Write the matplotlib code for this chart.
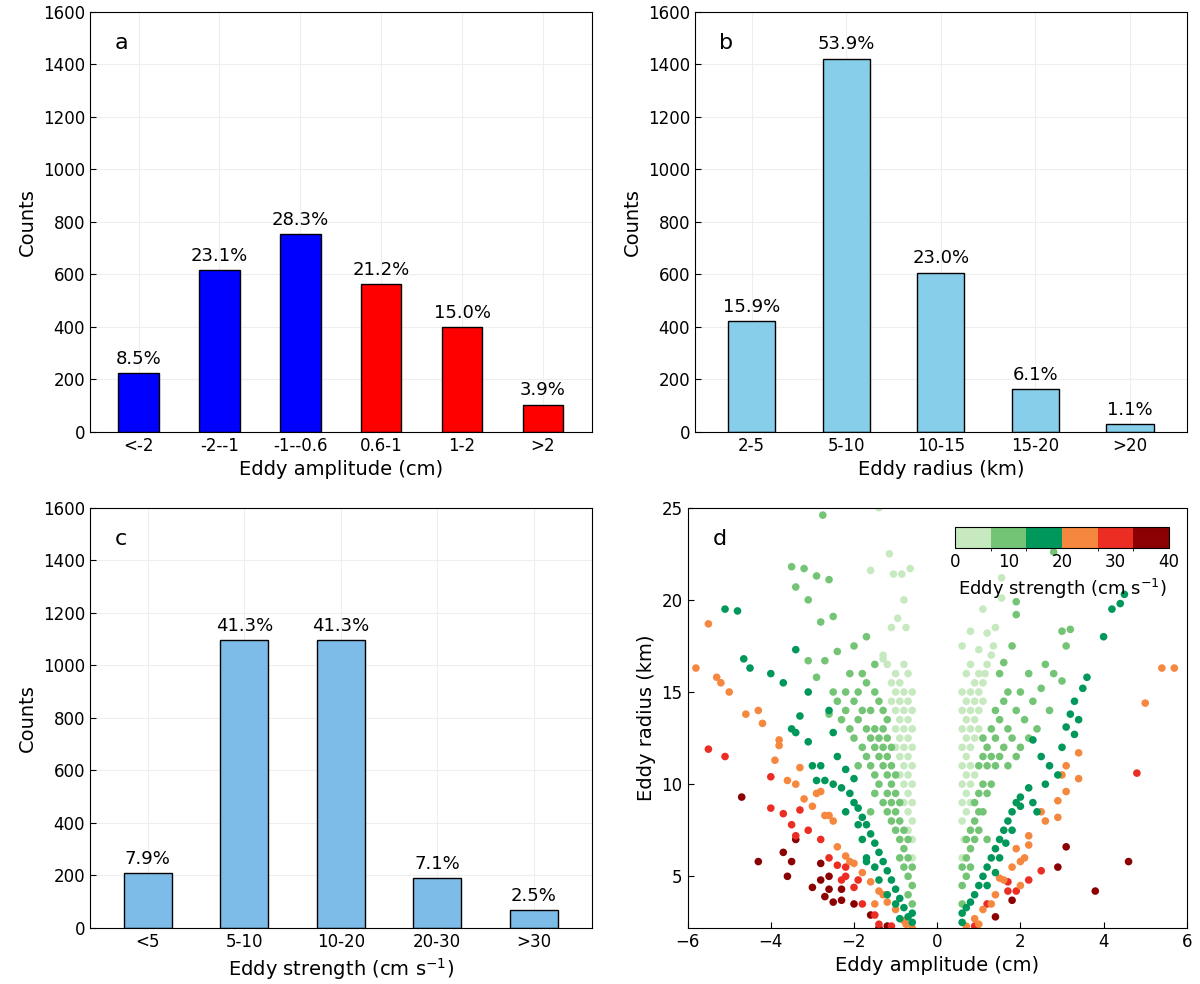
import matplotlib
matplotlib.use("Agg")
import matplotlib.pyplot as plt
import numpy as np
from matplotlib.colors import ListedColormap, BoundaryNorm

amp_cats = ["<-2", "-2--1", "-1--0.6", "0.6-1", "1-2", ">2"]
amp_counts = [225, 615, 752, 563, 400, 104]
amp_pct = ["8.5%", "23.1%", "28.3%", "21.2%", "15.0%", "3.9%"]
rad_cats = ["2-5", "5-10", "10-15", "15-20", ">20"]
rad_counts = [422, 1422, 607, 163, 30]
rad_pct = ["15.9%", "53.9%", "23.0%", "6.1%", "1.1%"]
str_cats = ["<5", "5-10", "10-20", "20-30", ">30"]
str_counts = [210, 1097, 1097, 190, 67]
str_pct = ["7.9%", "41.3%", "41.3%", "7.1%", "2.5%"]

light = [(-0.6,8),(-0.6,9),(-0.6,10),(-0.6,11),(-0.6,12),(-0.6,13),(-0.6,14),(-0.6,15),(-0.7,8.5),(-0.7,9.5),(-0.7,10.5),(-0.7,11.5),(-0.7,12.5),(-0.7,13.5),(-0.7,14.5),(-0.7,16),(-0.8,9),(-0.8,10),(-0.8,11),(-0.8,12),(-0.8,13),(-0.8,14),(-0.8,15),(-0.8,16.5),(-0.9,10.5),(-0.9,11.5),(-0.9,12.5),(-0.9,13.5),(-0.9,14.5),(-0.9,15.5),(-1.0,12),(-1.0,13),(-1.0,14),(-1.0,15),(-1.0,16),(-1.1,14.5),(-1.1,15.5),(-1.2,16.5),(-1.3,17),(-0.75,18.5),(-0.95,19),(-0.8,20),(-0.65,21.7),(-1.1,18.5),(-1.15,22.5),(-1.6,21.6),(-1.05,21.4),(-0.85,21.4),(-1.3,16.8),(-1.4,25),(-0.6,6),(-0.6,7),(-0.7,7.5),
         (0.6,8),(0.6,9),(0.6,10),(0.6,11),(0.6,12),(0.6,13),(0.6,14),(0.6,15),(0.7,8.5),(0.7,9.5),(0.7,10.5),(0.7,11.5),(0.7,12.5),(0.7,13.5),(0.7,14.5),(0.7,16),(0.8,9),(0.8,10),(0.8,11),(0.8,12),(0.8,13),(0.8,14),(0.8,15),(0.8,16.5),(0.9,10.5),(0.9,12.5),(0.9,13.5),(0.9,14.5),(0.9,15.5),(1.0,13),(1.0,14),(1.0,15),(1.0,16),(1.1,14.5),(1.1,15.5),(1.2,16.5),(1.3,17),(0.6,17.5),(0.8,18.3),(1.0,17.3),(1.2,18.2),(1.4,18.5),(1.35,17.5),(1.1,19.5),(1.55,21.2),(1.55,20.1),(1.15,16),(0.65,7),(0.6,6)]
medium = [(-0.6,3.5),(-0.6,4.5),(-0.6,5.5),(-0.7,4),(-0.7,5),(-0.7,6),(-0.7,7),(-0.8,5.5),(-0.8,6.5),(-0.8,7.5),(-0.9,6),(-0.9,7),(-0.9,8),(-0.9,9),(-1.0,7.5),(-1.0,8.5),(-1.0,9.5),(-1.0,10.5),(-1.1,8),(-1.1,9),(-1.1,10),(-1.1,11),(-1.1,12),(-1.2,9.5),(-1.2,10.5),(-1.2,11.5),(-1.2,12.5),(-1.2,13.5),(-1.3,9),(-1.3,11),(-1.3,12),(-1.3,13),(-1.3,14),(-1.4,10),(-1.4,11.5),(-1.4,12.5),(-1.4,14.5),(-1.5,10.5),(-1.5,12),(-1.5,13),(-1.5,15),(-1.6,11),(-1.6,12.5),(-1.6,14),(-1.7,11.5),(-1.7,13),(-1.7,15.5),(-1.8,12),(-1.8,14),(-1.9,11),(-1.9,13.5),(-1.9,15),(-2.0,12.5),(-2.0,14.5),(-2.1,13),(-2.2,14),(-2.2,15),(-2.3,13.5),(-2.4,14.5),(-2.5,15),(-2.6,13.8),(-2.0,17.5),(-1.7,18),(-2.4,17.2),(-2.7,16.7),(-2.9,15.8),(-3.1,16.7),(-2.8,18.8),(-2.5,19.1),(-3.1,20),(-3.4,20.7),(-3.5,21.8),(-3.2,21.7),(-2.9,21.3),(-2.6,21.1),(-2.75,24.6),(-1.5,16.5),(-1.8,16),(-2.1,16),(-1.2,8.5),(-1.5,9.5),(-1.6,8.5),
          (0.6,3.5),(0.6,4.5),(0.6,5.5),(0.7,5),(0.7,6),(0.7,7),(0.8,5.5),(0.8,6.5),(0.8,7.5),(0.9,7),(0.9,8),(0.9,9),(1.0,7.5),(1.0,8.5),(1.0,9.5),(1.0,11),(1.1,8.5),(1.1,10),(1.1,11.5),(1.1,12.5),(1.2,9.5),(1.2,11),(1.2,12),(1.3,10),(1.3,11.5),(1.3,13),(1.4,11),(1.4,12.5),(1.4,14),(1.5,11.5),(1.5,13.5),(1.6,12),(1.6,14.5),(1.7,11),(1.7,13),(1.7,15),(1.8,12.5),(1.9,11.5),(1.9,14),(2.0,12),(2.0,15),(2.1,13.5),(2.2,12.5),(2.3,14.5),(2.4,13),(2.5,15.2),(2.6,16.5),(2.7,14),(2.8,16),(3.0,15.6),(3.1,17.5),(3.2,18.4),(3.0,18.3),(2.2,16),(1.8,17.5),(1.6,16.6),(1.9,19.2),(1.9,19.9),(2.7,23.2),(2.8,22.6),(1.5,16),(1.2,7)]
dark = [(-0.6,2.5),(-0.6,3),(-0.7,2.8),(-0.8,3.3),(-0.9,3.8),(-1.0,4.3),(-1.1,4.8),(-1.2,5.3),(-1.3,5.8),(-1.4,6.3),(-1.5,6.8),(-1.6,7.3),(-1.7,7.8),(-1.8,8.2),(-1.9,8.7),(-2.0,9),(-2.1,9.5),(-2.3,9.8),(-2.5,10),(-2.7,10.2),(-2.9,10.2),(-3.0,11),(-3.1,12.3),(-3.4,12.8),(-3.5,13),(-3.3,13.7),(-2.6,14),(-2.5,12.8),(-2.4,11.5),(-2.2,10.8),(-2.8,11),(-2.0,10.3),(-1.8,7),(-1.5,5.5),(-1.2,4),(-1.0,3.5),(-0.9,2.7),(-1.4,4.8),(-1.7,6),(-2.2,8.5),(-1.9,7.8),(-3.7,15.5),(-3.1,15),(-4.0,16),(-4.5,16.3),(-4.65,16.8),(-5.1,19.5),(-4.8,19.4),(-3.4,17.3),(-1.7,5.8),
        (0.6,2.5),(0.6,3),(0.7,3.3),(0.8,3.6),(0.9,4),(1.0,4.5),(1.1,5),(1.2,5.5),(1.3,6),(1.4,6.5),(1.5,7),(1.6,7.5),(1.7,8),(1.8,8.5),(1.9,9),(2.0,9.3),(2.2,9.8),(2.3,9),(2.4,8.5),(2.6,10),(2.7,11),(2.9,10.5),(3.0,12),(3.1,13.1),(3.2,13.8),(3.4,13.5),(3.3,14.5),(3.5,15.2),(3.6,15.8),(2.5,11.5),(2.3,12.4),(1.5,6),(1.2,4.5),(1.8,7.5),(4.0,18),(4.2,19.5),(4.4,19.8),(4.5,20.3),(3.3,12.7),(1.4,5.2),(1.65,6.8),(2.0,8.8)]
orange = [(-0.6,2.2),(-0.8,2.6),(-1.0,3.2),(-1.2,3.6),(-1.4,4.2),(-1.6,4.7),(-1.8,5.2),(-2.0,5.7),(-2.2,6.1),(-2.4,6.6),(-2.5,8),(-2.7,8.3),(-2.9,9.5),(-3.2,9.2),(-3.4,10),(-3.6,10.2),(-3.9,11.3),(-3.8,12.1),(-4.2,13.3),(-4.3,14),(-4.6,13.8),(-5.0,15),(-5.2,15.5),(-5.3,15.8),(-5.8,16.3),(-5.5,18.7),(-3.3,10.9),(-2.6,8.3),(-2.8,9.6),(-1.3,4),(-1.5,3.5),(-0.75,2.4),(-2.1,5.8),(-3.0,8.8),(-3.8,12.4),
          (0.7,2.3),(0.9,2.7),(1.1,3.2),(1.3,3.5),(1.4,4),(1.6,4.8),(1.8,5.5),(1.9,6.5),(2.0,5.8),(2.2,6.7),(2.1,6),(2.2,7.2),(2.5,8.5),(2.6,8),(2.9,8.2),(2.9,9.1),(3.1,9.6),(3.0,10.5),(3.1,11),(3.4,10.3),(3.4,11.7),(5.0,14.4),(5.4,16.3),(5.7,16.3),(1.0,2.4),(2.0,4.5),(1.5,4.9)]
red = [(-1.4,2.4),(-1.5,2.9),(-1.8,3.5),(-2.0,4.4),(-2.2,5),(-2.4,5.6),(-2.6,6),(-2.3,4.8),(-2.8,7),(-3.1,7.5),(-3.3,8.6),(-3.5,7.8),(-3.4,7.2),(-3.7,8.4),(-4.0,8.7),(-4.0,10.4),(-5.1,11.5),(-5.5,11.9),(-2.2,5.5),(-1.9,4.8),(-1.1,2.3),
       (1.2,3.5),(1.7,4.7),(1.7,4.2),(1.9,4.2),(2.2,4.8),(2.5,5.3),(4.8,10.6),(0.9,2.3)]
darkred = [(-1.4,2.2),(-1.6,2.9),(-1.2,2.3),(-2.0,3.5),(-2.3,3.7),(-2.3,4.3),(-2.6,4.3),(-2.7,3.9),(-2.6,5),(-2.8,4.8),(-3.0,4.4),(-2.8,5.7),(-3.5,5.8),(-3.6,5),(-4.3,5.8),(-3.7,6.3),(-3.4,7),(-4.7,9.3),(-2.5,3.6),
           (0.95,2.1),(1.4,2.8),(1.8,3.7),(2.9,5.5),(3.1,6.6),(3.8,4.2),(4.6,5.8)]
groups = [(darkred, 37), (red, 30), (orange, 23), (light, 3), (medium, 10), (dark, 17)]

cb_colors = ['#c7e9c0', '#74c476', '#00985a', '#f6873e', '#ec2d24', '#8b0000']

fig = plt.figure(figsize=(12, 9.84), dpi=100)
plt.rcParams['font.family'] = ['DejaVu Sans']

def style(ax):
    ax.tick_params(direction='in', labelsize=12, length=4)
    ax.grid(True, color='#eeeeee', linewidth=0.8)
    ax.set_axisbelow(True)

def barpanel(rect, cats, counts, pct, colors, xlabel, letter):
    ax = fig.add_axes(rect)
    x = np.arange(len(cats))
    ax.bar(x, counts, width=0.5, color=colors, edgecolor='black', linewidth=1)
    for xi, c, p in zip(x, counts, pct):
        ax.text(xi, c + 20, p, ha='center', va='bottom', fontsize=13)
    ax.set_xticks(x)
    ax.set_xticklabels(cats)
    ax.set_ylim(0, 1600)
    ax.set_yticks(range(0, 1601, 200))
    ax.set_xlim(-0.6, len(cats) - 0.4)
    ax.set_ylabel('Counts', fontsize=14)
    ax.set_xlabel(xlabel, fontsize=14)
    ax.text(0.05, 0.95, letter, transform=ax.transAxes, fontsize=16, va='top')
    style(ax)
    return ax

barpanel([0.075, 0.561, 0.418, 0.427], amp_cats, amp_counts, amp_pct,
         ['#0000ff'] * 3 + ['#ff0000'] * 3, 'Eddy amplitude (cm)', 'a')
barpanel([0.579, 0.561, 0.410, 0.427], rad_cats, rad_counts, rad_pct,
         '#87ceeb', 'Eddy radius (km)', 'b')
barpanel([0.075, 0.057, 0.418, 0.427], str_cats, str_counts, str_pct,
         '#7dbbe8', 'Eddy strength (cm s$^{-1}$)', 'c')

ax = fig.add_axes([0.573, 0.057, 0.416, 0.427])
cmap = ListedColormap(cb_colors)
norm = BoundaryNorm(np.linspace(0, 40, 7), cmap.N)
sc = None
for pts, s in groups:
    xs = [p[0] for p in pts]
    ys = [p[1] for p in pts]
    sc = ax.scatter(xs, ys, c=[s] * len(pts), cmap=cmap, norm=norm, s=30, linewidths=0)
ax.set_xlim(-6, 6)
ax.set_ylim(2.2, 25)
ax.set_yticks([5, 10, 15, 20, 25])
ax.set_xticks([-6, -4, -2, 0, 2, 4, 6])
ax.set_xlabel('Eddy amplitude (cm)', fontsize=14)
ax.set_ylabel('Eddy radius (km)', fontsize=14)
ax.tick_params(direction='in', labelsize=12, length=4)
ax.text(0.05, 0.95, 'd', transform=ax.transAxes, fontsize=16, va='top')

cax = fig.add_axes([0.796, 0.443, 0.178, 0.021])
cb = fig.colorbar(sc, cax=cax, orientation='horizontal', ticks=[0, 10, 20, 30, 40])
cb.ax.tick_params(labelsize=12, length=0)
cb.set_label('Eddy strength (cm s$^{-1}$)', fontsize=13)

fig.savefig('out.png', dpi=100)
